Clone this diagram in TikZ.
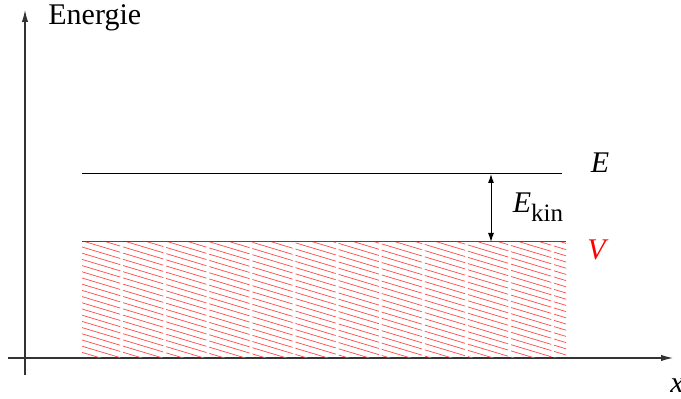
\documentclass[tikz,border=0pt]{standalone}
\usepackage{fontspec}
\setmainfont{Liberation Serif}
\usetikzlibrary{positioning, calc, arrows.meta}
\tikzset{
  every node/.style={font=\fontsize{15}{17}\selectfont, inner sep=0pt},
  axis/.style={draw=black!80, line width=0.55pt, -{Latex[length=6pt, width=3.2pt]}},
  level/.style={draw=black, line width=0.5pt},
  vlevel/.style={draw=red, line width=0.5pt},
  hatch/.style={draw=red!70, line width=0.35pt, dash pattern=on 21pt off 1.5pt},
  gap/.style={draw=black, line width=0.5pt, {Latex[length=4.5pt, width=3pt]}-{Latex[length=4.5pt, width=3pt]}},
}
\begin{document}
\begin{tikzpicture}[x=0.5pt, y=0.5pt]
  \useasboundingbox (0,0) rectangle (681,399);
  % ---- axes ---------------------------------------------------------------
  \coordinate (ybot) at (25,24);
  \coordinate (ytop) at (25,389);
  \coordinate (xleft) at (8,41);
  \coordinate (xright) at (673,41);
  \draw[axis] (ybot) -- (ytop);
  \draw[axis] (xleft) -- (xright);
  \node[anchor=west] (elab) at (48,381) {Energie};
  \node (xlab) at (677,13) {\textit{x}};

  % ---- potential region (hatched) ----------------------------------------
  \coordinate (vl) at (82,157);
  \coordinate (vr) at (566,157);
  \coordinate (bl) at (82,41);
  \begin{scope}
    \clip (bl) rectangle (vr);
    \foreach \k in {0,...,46}
      \draw[hatch] ($(bl)+(-2,\k*6.2)$) -- ++(520,-156);
  \end{scope}
  \draw[vlevel] (vl) -- (vr);
  \node (vlab) at (598,149) {\textcolor{red}{\textit{V}}};

  % ---- energy level -------------------------------------------------------
  \coordinate (el) at (82,225);
  \coordinate (er) at (562,225);
  \draw[level] (el) -- (er);
  \node (Elab) at (600,236) {\textit{E}};

  % ---- kinetic energy ------------------------------------------------------
  \coordinate (ka) at (491,225);
  \coordinate (kb) at (491,157);
  \draw[gap] (ka) -- (kb);
  \node (ekin) at (538,192) {\textit{E}\raisebox{-0.3em}{\fontsize{12.5}{13}\selectfont kin}};
\end{tikzpicture}
\end{document}
